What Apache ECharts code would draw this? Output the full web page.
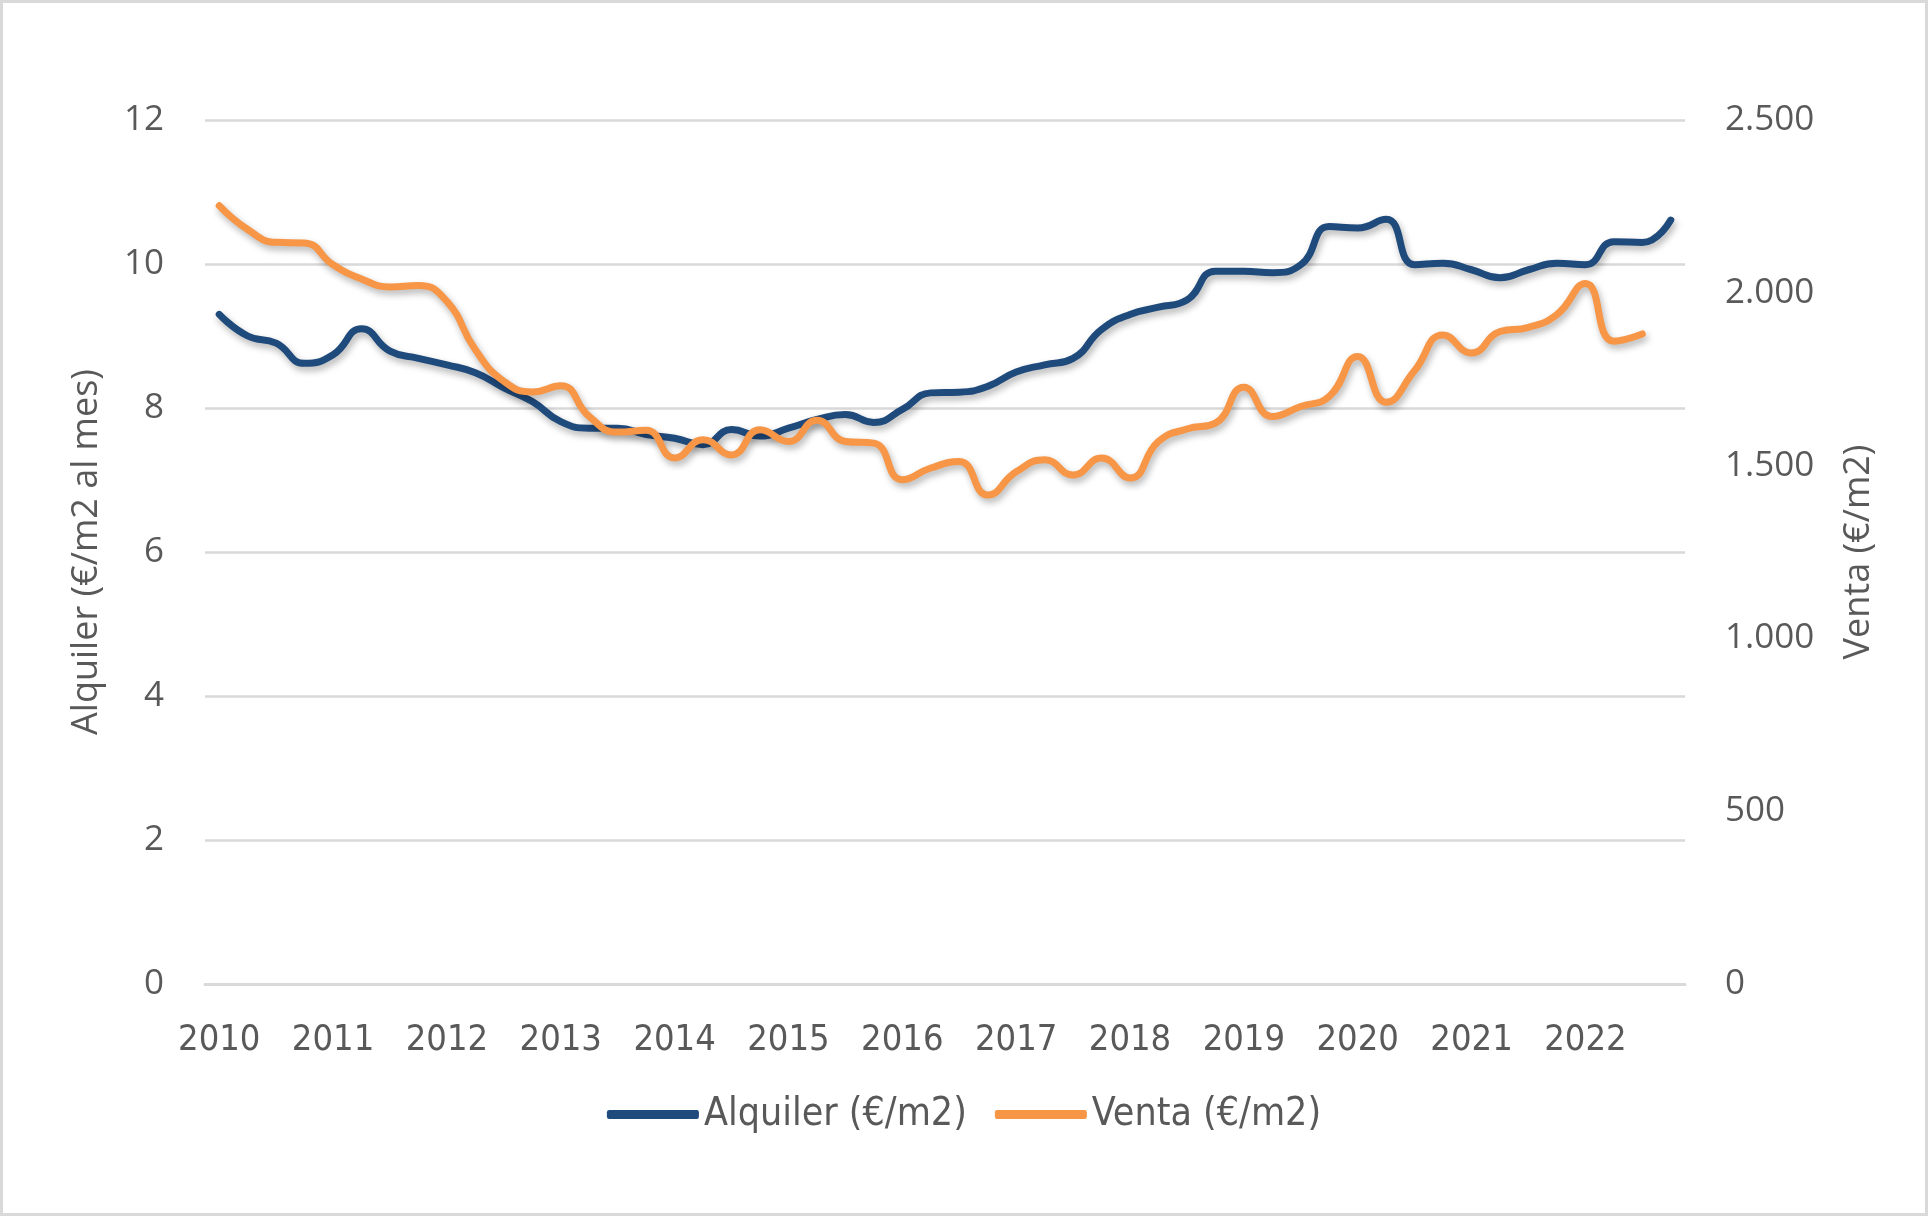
<!DOCTYPE html>
<html>
<head>
<meta charset="utf-8">
<script src="https://cdn.jsdelivr.net/npm/echarts@6/dist/echarts.min.js"></script>
<style>
  html, body { margin: 0; padding: 0; background: #fff; }
  #main { width: 1928px; height: 1216px; }
</style>
</head>
<body>
<div id="main"></div>
<script>
// trimestres 2010-2022
var quarters = [
  '2010 T1','2010 T2','2010 T3','2010 T4',
  '2011 T1','2011 T2','2011 T3','2011 T4',
  '2012 T1','2012 T2','2012 T3','2012 T4',
  '2013 T1','2013 T2','2013 T3','2013 T4',
  '2014 T1','2014 T2','2014 T3','2014 T4',
  '2015 T1','2015 T2','2015 T3','2015 T4',
  '2016 T1','2016 T2','2016 T3','2016 T4',
  '2017 T1','2017 T2','2017 T3','2017 T4',
  '2018 T1','2018 T2','2018 T3','2018 T4',
  '2019 T1','2019 T2','2019 T3','2019 T4',
  '2020 T1','2020 T2','2020 T3','2020 T4',
  '2021 T1','2021 T2','2021 T3','2021 T4',
  '2022 T1','2022 T2','2022 T3','2022 T4'
];

// Alquiler (€/m2 al mes)
var alquiler = [
  9.30, 9.00, 8.90, 8.62, 8.74, 9.10, 8.79, 8.69,
  8.60, 8.49, 8.28, 8.09, 7.81, 7.72, 7.72, 7.63,
  7.58, 7.49, 7.70, 7.61, 7.72, 7.84, 7.91, 7.80,
  7.98, 8.21, 8.22, 8.30, 8.50, 8.60, 8.69, 9.09,
  9.30, 9.40, 9.50, 9.90, 9.90, 9.88, 9.99, 10.52,
  10.50, 10.62, 9.99, 10.01, 9.92, 9.81, 9.92, 10.01,
  9.99, 10.31, 10.30, 10.61
];

// Venta (€/m2), sin dato el último trimestre
var venta = [
  2252, 2183, 2146, 2144, 2081, 2040, 2017, 2021,
  1975, 1835, 1744, 1713, 1731, 1642, 1597, 1602,
  1522, 1575, 1531, 1604, 1570, 1631, 1570, 1565,
  1459, 1493, 1512, 1415, 1482, 1517, 1473, 1522,
  1464, 1570, 1606, 1623, 1727, 1642, 1671, 1700,
  1816, 1683, 1775, 1878, 1826, 1888, 1900, 1937,
  2027, 1860, 1881, null
];

var leftTicks = { min: 0, max: 12, interval: 2 };
var rightTicks = { min: 0, max: 2500, interval: 500 };

var labelFont = '"Open Sans", "DejaVu Sans", sans-serif';
var narrowFont = '"Liberation Sans Narrow", "DejaVu Sans Condensed", sans-serif';
var grey = '#595959';

var myChart = echarts.init(document.getElementById('main'));

myChart.setOption({
  backgroundColor: '#ffffff',
  animation: false,
  graphic: [{
    type: 'rect',
    shape: { x: 1.5, y: 1.5, width: 1925, height: 1213 },
    style: { fill: 'none', stroke: '#d9d9d9', lineWidth: 3 },
    silent: true
  }],
  grid: { left: 205, right: 243, top: 120, bottom: 232, containLabel: false },
  legend: {
    left: 'center',
    top: 1090,
    icon: 'roundRect',
    itemWidth: 92,
    itemHeight: 9,
    itemGap: 28,
    textStyle: { fontFamily: narrowFont, fontSize: 39, color: grey },
    data: ['Alquiler (€/m2)', 'Venta (€/m2)']
  },
  xAxis: {
    type: 'category',
    data: quarters,
    boundaryGap: true,
    axisLine: { lineStyle: { color: '#d9d9d9', width: 3 } },
    axisTick: { show: false },
    axisLabel: {
      interval: 3,
      margin: 39,
      fontFamily: narrowFont,
      fontSize: 36,
      color: grey,
      formatter: function (v) { return v.slice(0, 4); }
    }
  },
  yAxis: [
    {
      type: 'value',
      min: leftTicks.min, max: leftTicks.max, interval: leftTicks.interval,
      position: 'left',
      name: 'Alquiler (€/m2 al mes)',
      nameLocation: 'middle',
      nameRotate: 90,
      nameGap: 100,
      nameTextStyle: { fontFamily: labelFont, fontSize: 36, color: grey },
      axisLine: { show: false },
      axisTick: { show: false },
      axisLabel: { margin: 41, fontFamily: labelFont, fontSize: 35, color: grey },
      splitLine: { lineStyle: { color: '#d9d9d9', width: 2.5 } }
    },
    {
      type: 'value',
      min: rightTicks.min, max: rightTicks.max, interval: rightTicks.interval,
      position: 'right',
      name: 'Venta (€/m2)',
      nameLocation: 'middle',
      nameRotate: 90,
      nameGap: 156,
      nameTextStyle: { fontFamily: labelFont, fontSize: 36, color: grey },
      axisLine: { show: false },
      axisTick: { show: false },
      splitLine: { show: false },
      axisLabel: {
        margin: 40,
        fontFamily: labelFont,
        fontSize: 35,
        color: grey,
        formatter: function (v) { return String(v).replace(/\B(?=(\d{3})+(?!\d))/g, '.'); }
      }
    }
  ],
  series: [
    {
      name: 'Alquiler (€/m2)',
      type: 'line',
      yAxisIndex: 0,
      data: alquiler,
      smooth: 0.5,
      showSymbol: false,
      symbol: 'none',
      itemStyle: { color: '#1f4a7c' },
      lineStyle: {
        color: '#1f4a7c', width: 7, cap: 'round', join: 'round',
        shadowColor: 'rgba(0,0,0,0.3)', shadowBlur: 7, shadowOffsetX: 2, shadowOffsetY: 4
      }
    },
    {
      name: 'Venta (€/m2)',
      type: 'line',
      yAxisIndex: 1,
      data: venta,
      smooth: 0.5,
      showSymbol: false,
      symbol: 'none',
      itemStyle: { color: '#f79646' },
      lineStyle: {
        color: '#f79646', width: 7, cap: 'round', join: 'round',
        shadowColor: 'rgba(0,0,0,0.3)', shadowBlur: 7, shadowOffsetX: 2, shadowOffsetY: 4
      }
    }
  ]
});
</script>
</body>
</html>
